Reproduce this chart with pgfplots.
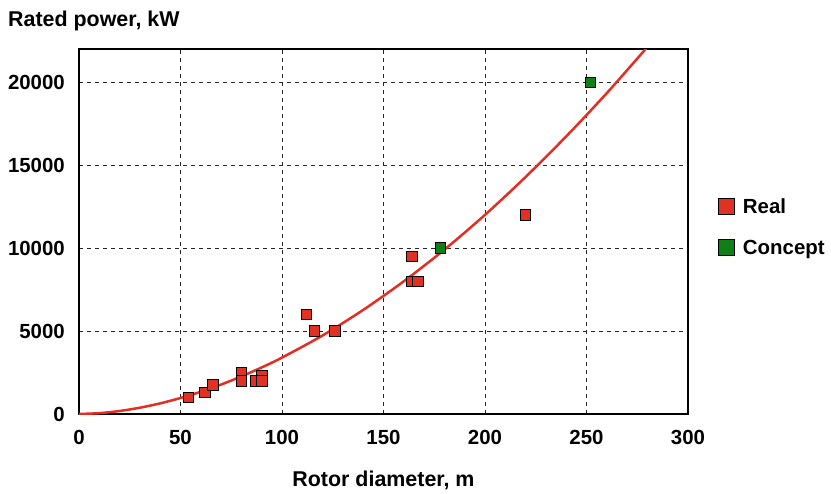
\documentclass[border=0pt]{standalone}
\usepackage{fontspec}
\setmainfont{Liberation Sans}
\usepackage{pgfplots}
\pgfplotsset{compat=1.18}
\definecolor{realred}{RGB}{224, 50, 36}
\definecolor{conceptgreen}{RGB}{16, 128, 22}
\definecolor{curvered}{RGB}{228, 45, 35}

\begin{document}
\begin{tikzpicture}
  \begin{axis}[
    at={(0,0)}, anchor=south west,
    scale only axis,
    width=609bp, height=365bp,
    xmin=0, xmax=300, ymin=0, ymax=22000,
    xtick={0,50,...,300},
    ytick={0,5000,...,20000},
    major tick length=0pt,
    grid=major,
    grid style={black!85, line width=0.9bp, dash pattern=on 4bp off 4bp},
    axis line style={black, line width=1.4bp},
    scaled y ticks=false,
    /pgf/number format/assume math mode=true,
    /pgf/number format/.cd, 1000 sep={}, /pgfplots/.cd,
    tick label style={font=\fontsize{20.5}{22}\selectfont\bfseries},
    xticklabel style={anchor=base, yshift=-30bp},
    yticklabel style={anchor=east, inner sep=0pt, xshift=-14bp},
    xlabel={Rotor diameter, m},
    xlabel style={font=\fontsize{21.5}{24}\selectfont\bfseries, anchor=base, at={(rel axis cs:0.5,0)}, yshift=-72.7bp},
    ylabel={Rated power, kW},
    ylabel style={font=\fontsize{21.5}{24}\selectfont\bfseries, rotate=-90, anchor=base west, inner sep=0pt, at={(rel axis cs:0,1)}, xshift=-71bp, yshift=23bp},
    legend style={draw=none, fill=none, at={(rel axis cs:1,0.512)}, anchor=west, xshift=27bp,
      font=\fontsize{20.5}{23}\selectfont\bfseries, row sep=21bp},
    legend cell align=left,
    clip=true,
  ]
  % fitted curve
  \addplot[color=curvered, line width=2.5bp, smooth, forget plot] coordinates {
    (0,0) (10,52) (20,182) (30,380) (40,642) (50,964) (60,1341) (70,1777)
    (80,2266) (90,2806) (100,3400) (120,4735) (140,6274) (160,8000)
    (180,9907) (200,12004) (220,14287) (240,16733) (260,19342) (280,22124)
  };
  \addplot[only marks, mark=square*, mark size=5.2bp,
    mark options={fill=realred, draw=black, line width=0.8bp},
    legend image code/.code={\draw[fill=realred, draw=black, line width=0.8bp] (0bp,-8bp) rectangle (16bp,8bp);}]
    coordinates {
    (54,1000) (62,1300) (66,1750) (80,2500) (80,2000) (87,2000) (90,2300) (90,2000)
    (112,6000) (116,5000) (126,5000) (164,9500) (164,8000) (167,8000) (220,12000)
  };
  \addlegendentry{\hspace{6bp}Real}
  \addplot[only marks, mark=square*, mark size=5.2bp,
    mark options={fill=conceptgreen, draw=black, line width=0.8bp},
    legend image code/.code={\draw[fill=conceptgreen, draw=black, line width=0.8bp] (0bp,-8bp) rectangle (16bp,8bp);}]
    coordinates {(178,10000) (252,20000)};
  \addlegendentry{\hspace{6bp}Concept}
  \end{axis}
  \useasboundingbox (-79bp,-77bp) rectangle (752bp,414bp);
\end{tikzpicture}
\end{document}
